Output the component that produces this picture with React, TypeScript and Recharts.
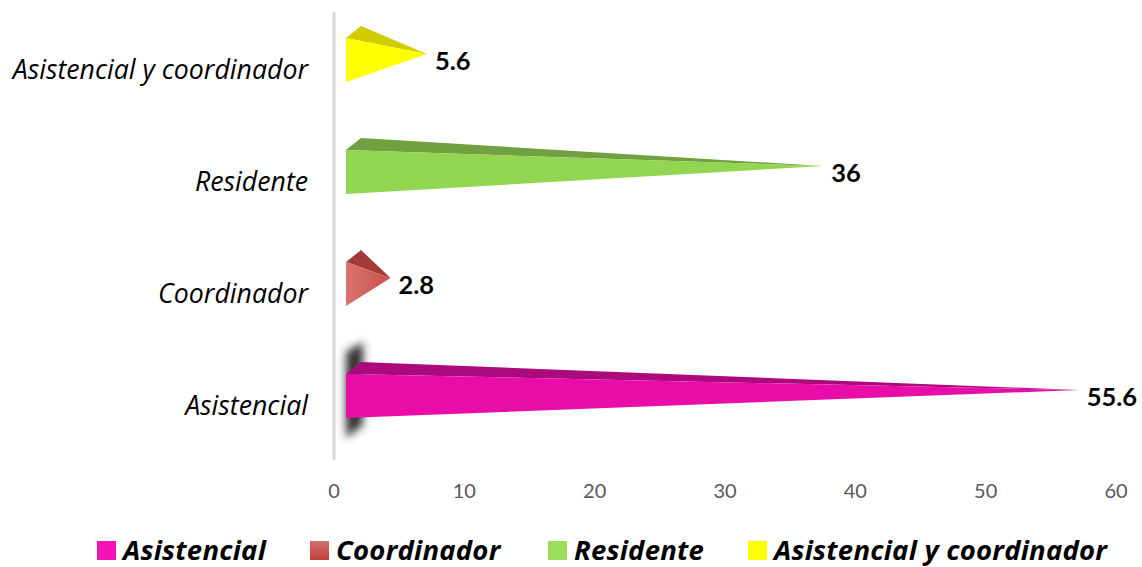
import React from "react";
import { BarChart, Bar, XAxis, YAxis, Legend, LabelList } from "recharts";

// Survey roles and their percentage share, listed bottom-up on the chart.
const categories = ["Asistencial", "Coordinador", "Residente ", "Asistencial y coordinador"];
const values = [55.6, 2.8, 36, 5.6];
const seriesNames = ["Asistencial", "Coordinador", "Residente", "Asistencial y coordinador"];
const tickValues = [0, 10, 20, 30, 40, 50, 60];

const frontFills = ["#e80ca8", "url(#redFront)", "#92d550", "#ffff00"];
const topFills = ["#ab0a7c", "#a23a39", "#70a040", "#d0cc00"];
const swatches = ["#f512b5", "linear-gradient(#d2706c,#bf3f3b)", "#9bdc58", "#ffff00"];
const legendLefts = [97, 310, 548, 748];

const LABEL_FONT = "'Open Sans', sans-serif";
const NUMBER_FONT = "Lato, sans-serif";

// One row per role; each row fills only its own series so the legend lists all four.
const rows = categories.map((name, i) => ({ name, [seriesNames[i]]: values[i] }));

// A pyramid lying on its side: front face plus the lit top face, ending in a point.
function Pyramid(props: any) {
  const { x, y, width, fill, topFill, shadow } = props;
  if (!width || width <= 0) return null;
  const left = x + 12;
  const back = left + 15;
  const tip = x + width + 20;
  const top = y - 8;
  const bottom = y + 36;
  const apexY = y - 20;
  const tipY = y + 8;
  return (
    <g>
      {shadow && (
        <polygon
          points={`${left},${y - 30} ${back + 2},${y - 40} ${back + 2},${y + 43} ${left},${y + 56}`}
          fill="#303030"
          filter="url(#softShadow)"
        />
      )}
      <polygon points={`${left},${top} ${back},${apexY} ${tip},${tipY}`} fill={topFill} />
      <polygon points={`${left},${top} ${tip},${tipY} ${left},${bottom}`} fill={fill} />
    </g>
  );
}

function ValueLabel(props: any) {
  const { x, y, width, value } = props;
  if (value === undefined || value === null) return null;
  return (
    <text
      x={x + width + 28}
      y={y + 14}
      dominantBaseline="central"
      fontFamily={NUMBER_FONT}
      fontWeight={700}
      fontSize={25.5}
      fill="#000"
    >
      {value}
    </text>
  );
}

function LegendRow(props: any) {
  const items = props.payload ?? [];
  return (
    <div style={{ position: "relative", width: 1142, height: 40 }}>
      {items.map((item: any) => {
        const idx = seriesNames.indexOf(item.value);
        return (
          <div
            key={item.value}
            style={{
              position: "absolute",
              left: legendLefts[idx],
              top: 8,
              display: "flex",
              alignItems: "center",
              height: 30,
              lineHeight: "30px",
              whiteSpace: "nowrap",
              fontFamily: LABEL_FONT,
              fontStyle: "italic",
              fontWeight: 700,
              fontSize: 27.5,
              letterSpacing: 0.22,
              color: "#000",
            }}
          >
            <span style={{ display: "inline-block", width: 19, height: 19, marginRight: 7, background: swatches[idx] }} />
            {item.value}
          </div>
        );
      })}
    </div>
  );
}

export default function App() {
  return (
    <div style={{ position: "absolute", left: 0, top: 0, width: 1142, height: 567, background: "#fff" }}>
      <BarChart
        width={1142}
        height={567}
        data={rows}
        layout="vertical"
        barSize={44}
        margin={{ top: 12, right: 26, bottom: 0, left: 0 }}
      >
        <defs>
          <linearGradient id="redFront" x1="0" y1="0" x2="1" y2="0">
            <stop offset="0" stopColor="#d9756f" />
            <stop offset="1" stopColor="#c9504a" />
          </linearGradient>
          <filter id="softShadow" x="-200%" y="-30%" width="500%" height="160%">
            <feGaussianBlur stdDeviation="4" />
          </filter>
        </defs>
        <XAxis
          type="number"
          domain={[0, 60]}
          ticks={tickValues}
          height={67}
          axisLine={false}
          tickLine={false}
          tickMargin={18}
          tick={{ fontFamily: NUMBER_FONT, fontSize: 20, fill: "#595959" }}
        />
        <YAxis
          type="category"
          dataKey="name"
          reversed
          width={334}
          axisLine={{ stroke: "#d9d9d9", strokeWidth: 3 }}
          tickLine={false}
          tickMargin={26}
          interval={0}
          tick={(tickProps: any) => (
            <text
              x={tickProps.x + 6}
              y={tickProps.y}
              textAnchor="end"
              dominantBaseline="central"
              fontFamily={LABEL_FONT}
              fontStyle="italic"
              fontSize={26.7}
              fill="#000"
            >
              {tickProps.payload.value}
            </text>
          )}
        />
        <Legend verticalAlign="bottom" height={40} content={<LegendRow />} />
        {seriesNames.map((name, i) => (
          <Bar
            key={name}
            dataKey={name}
            stackId="roles"
            fill={frontFills[i]}
            isAnimationActive={false}
            shape={<Pyramid topFill={topFills[i]} fill={frontFills[i]} shadow={i === 0} />}
          >
            <LabelList dataKey={name} content={<ValueLabel />} />
          </Bar>
        ))}
      </BarChart>
    </div>
  );
}
